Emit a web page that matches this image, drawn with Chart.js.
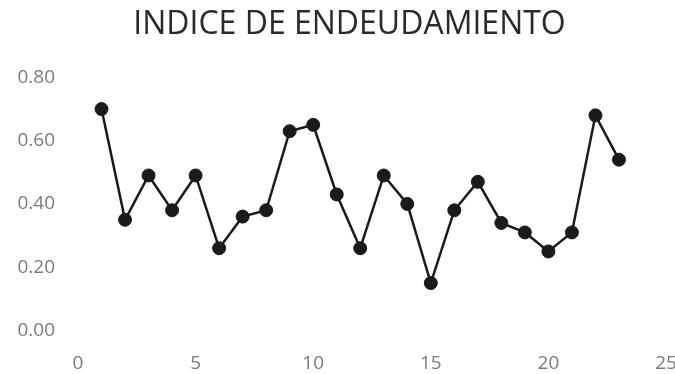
<!DOCTYPE html>
<html>
<head>
<meta charset="utf-8">
<script src="https://cdn.jsdelivr.net/npm/chart.js@4"></script>
<style>
  html, body { margin: 0; padding: 0; background: #fff; }
  #wrap { width: 675px; height: 374px; }
</style>
</head>
<body>
<div id="wrap"><canvas id="c" width="675" height="374"></canvas></div>
<script>
// Periods (x) and debt ratio values (y)
const periodos = [1, 2, 3, 4, 5, 6, 7, 8, 9, 10, 11, 12, 13, 14, 15, 16, 17, 18, 19, 20, 21, 22, 23];
const indice = [0.70, 0.35, 0.49, 0.38, 0.49, 0.26, 0.36, 0.38, 0.63, 0.65, 0.43, 0.26, 0.49, 0.40, 0.15, 0.38, 0.47, 0.34, 0.31, 0.25, 0.31, 0.68, 0.54];
const xTicks = [0, 5, 10, 15, 20, 25];
const yTicks = [0.00, 0.20, 0.40, 0.60, 0.80];
const titulo = 'INDICE DE ENDEUDAMIENTO';

const puntos = periodos.map((p, i) => ({ x: p, y: indice[i] }));

// Nudge the title box a little to the right of the canvas centre
const titleShift = {
  id: 'titleShift',
  afterLayout(chart) {
    const t = chart.titleBlock;
    if (t) { t.left += 12; t.right += 12; }
  }
};

new Chart(document.getElementById('c'), {
  type: 'scatter',
  data: {
    datasets: [{
      data: puntos,
      showLine: true,
      borderColor: '#1a1a1a',
      borderWidth: 2.5,
      backgroundColor: '#1a1a1a',
      pointBackgroundColor: '#1a1a1a',
      pointBorderColor: '#1a1a1a',
      pointRadius: 6.5,
      pointBorderWidth: 1,
      tension: 0
    }]
  },
  plugins: [titleShift],
  options: {
    responsive: false,
    animation: false,
    layout: { padding: { left: 0, right: 0, top: 0, bottom: 0 } },
    plugins: {
      legend: { display: false },
      tooltip: { enabled: false },
      title: {
        display: true,
        text: titulo,
        color: '#2a2a2a',
        font: { family: 'Open Sans', size: 32, weight: 'normal' },
        padding: { top: 6, bottom: 33 }
      }
    },
    scales: {
      x: {
        type: 'linear',
        min: xTicks[0],
        max: xTicks[xTicks.length - 1],
        grid: { display: false },
        border: { display: false },
        afterBuildTicks: s => { s.ticks = xTicks.map(v => ({ value: v })); },
        afterFit: s => { s.height = 43.5; s.paddingRight = 9; s.paddingLeft = 0; },
        ticks: {
          padding: 14,
          color: '#7a7a7a',
          font: { family: 'Open Sans', size: 19 },
          maxRotation: 0,
          callback: v => String(v)
        }
      },
      y: {
        min: yTicks[0],
        max: yTicks[yTicks.length - 1],
        grid: { display: false },
        border: { display: false },
        afterBuildTicks: s => { s.ticks = yTicks.map(v => ({ value: v })); },
        afterFit: s => { s.width = 78; },
        ticks: {
          padding: 15,
          color: '#7a7a7a',
          font: { family: 'Open Sans', size: 19 },
          callback: v => Number(v).toFixed(2)
        }
      }
    }
  }
});
</script>
</body>
</html>
